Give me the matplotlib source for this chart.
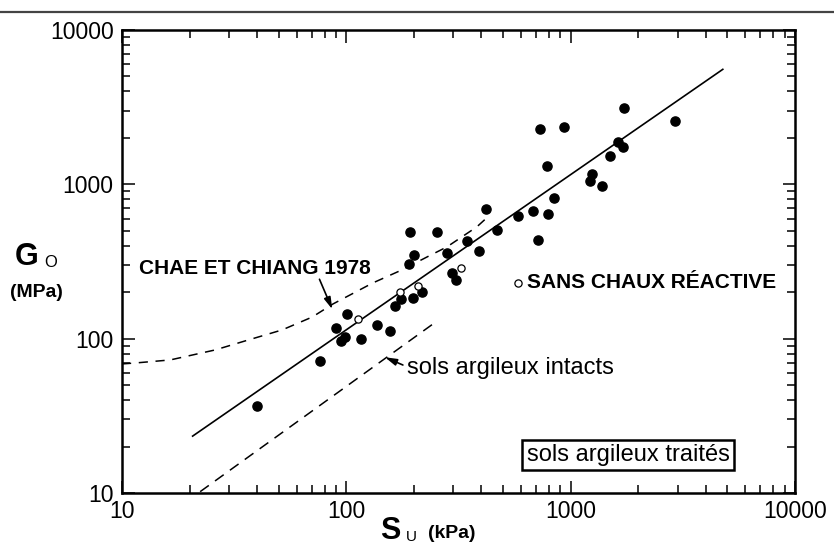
import matplotlib
matplotlib.use("Agg")
import matplotlib.pyplot as plt
from matplotlib.lines import Line2D
from matplotlib.ticker import LogLocator, NullFormatter

plt.rcParams['font.family'] = ['Liberation Sans', 'DejaVu Sans']

# ---- data ----
su_filled = [40, 76, 90, 101, 95, 99, 116, 137, 157, 165, 175, 198, 217, 190, 200,
             192, 253, 281, 295, 308, 344, 389, 419, 468, 581, 677, 790, 713, 840,
             728, 931, 782, 1240, 1215, 1374, 1491, 1618, 1703, 1722, 2904]
g_filled = [36.6, 71.7, 117, 144.5, 96.6, 102.6, 99.5, 122.7, 112, 163, 181, 183.5,
            200.7, 305, 349, 491, 491, 359, 267, 240, 430, 370, 693, 506, 624, 672,
            643, 436, 816, 2286, 2355, 1316, 1167, 1052, 977, 1528, 1883, 1747, 3127,
            2576]

su_open = [113, 173, 208, 324]
g_open = [134, 201, 220, 287]

su_fit = [20.5, 4800]
g_fit = [23.2, 5600]

su_intacts = [22.3, 248]
g_intacts = [10.2, 127]

su_chae = [10, 11.5, 16.4, 26, 36.5, 51.7, 70.4, 87.3, 131.5, 177, 228.6, 280.7,
           381.6, 427]
g_chae = [68.6, 69.6, 72.8, 84.5, 98, 113.9, 138, 168, 230, 279, 338, 393, 530, 615]

tick_values = [10, 100, 1000, 10000]
tick_labels = ['10', '100', '1000', '10000']

# ---- figure ----
fig = plt.figure(figsize=(8.34, 5.47), dpi=100)
ax = fig.add_axes([122 / 834, 1 - 493 / 547, (795 - 122) / 834, (493 - 30) / 547])
ax.set_xscale('log')
ax.set_yscale('log')
ax.set_xlim(10, 10000)
ax.set_ylim(10, 10000)

ax.plot(su_fit, g_fit, color='black', lw=1.2, solid_capstyle='butt')
ax.plot(su_intacts, g_intacts, color='black', lw=1.1, dashes=(7, 5))
ax.plot(su_chae, g_chae, color='black', lw=1.1, dashes=(6, 5))
ax.plot(su_filled, g_filled, 'o', color='black', ms=6.6, mec='black')
ax.plot(su_open, g_open, 'o', mfc='white', mec='black', ms=5.2, mew=0.9)

ax.set_xticks(tick_values)
ax.set_xticklabels(tick_labels)
ax.set_yticks(tick_values)
ax.set_yticklabels(tick_labels)
for a in (ax.xaxis, ax.yaxis):
    a.set_minor_locator(LogLocator(base=10, subs=range(2, 10)))
    a.set_minor_formatter(NullFormatter())
ax.tick_params(which='both', direction='in', top=True, right=True, width=1.1,
               labelsize=16.5)
ax.tick_params(which='major', length=9)
ax.tick_params(which='minor', length=6)
ax.tick_params(axis='y', pad=6)
ax.tick_params(axis='x', pad=5)
for s in ax.spines.values():
    s.set_linewidth(1.8)

# annotations
ax.text(11.95, 287, 'CHAE ET CHIANG 1978', fontsize=15, fontweight='bold',
        va='center', ha='left')
ax.annotate('', xy=(86.6, 155), xytext=(75.9, 242.6),
            arrowprops=dict(arrowstyle='-|>,head_length=0.7,head_width=0.2',
                            color='black', lw=1.2, shrinkA=0, shrinkB=0))
ax.text(186, 64.6, 'sols argileux intacts', fontsize=17, va='center', ha='left')
ax.annotate('', xy=(148.6, 75.8), xytext=(178.7, 67.5),
            arrowprops=dict(arrowstyle='-|>,head_length=0.7,head_width=0.2',
                            color='black', lw=1.2, shrinkA=0, shrinkB=0))
ax.plot([581], [229.6], 'o', mfc='white', mec='black', ms=5.2, mew=0.9)
ax.text(637, 229.6, 'SANS CHAUX RÉACTIVE', fontsize=15, fontweight='bold',
        va='center', ha='left')
ax.text(1803, 17.6, 'sols argileux traités', fontsize=17, va='center', ha='center',
        bbox=dict(boxstyle='square,pad=0.18', fc='white', ec='black', lw=1.8))

# axis labels
fig.text(15 / 834, 1 - 265 / 547, 'G', fontsize=22, fontweight='bold', va='baseline')
fig.text(44 / 834, 1 - 267 / 547, 'O', fontsize=12, va='baseline')
fig.text(10 / 834, 1 - 297 / 547, '(MPa)', fontsize=14, fontweight='bold',
         va='baseline')
fig.text(380 / 834, 1 - 539 / 547, 'S', fontsize=22, fontweight='bold', va='baseline')
fig.text(406 / 834, 1 - 541 / 547, 'U', fontsize=11, va='baseline')
fig.text(428 / 834, 1 - 538 / 547, '(kPa)', fontsize=14, fontweight='bold',
         va='baseline')

# page rule at top
fig.add_artist(Line2D([0, 1], [1 - 12 / 547, 1 - 12 / 547], color='#444444', lw=1.6,
                      transform=fig.transFigure))

fig.savefig('out.png', dpi=100)
